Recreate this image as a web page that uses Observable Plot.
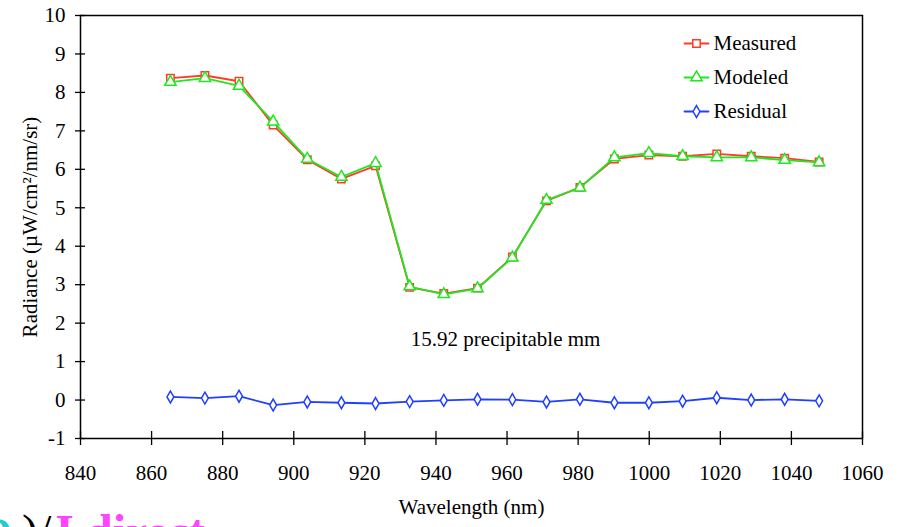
<!DOCTYPE html>
<html>
<head>
<meta charset="utf-8">
<script src="https://cdn.jsdelivr.net/npm/d3@7"></script>
<script src="https://cdn.jsdelivr.net/npm/@observablehq/plot@0.6"></script>
<style>
  html, body { margin: 0; padding: 0; background: #fff; overflow: hidden; width: 900px; height: 527px; }
  #chart { position: absolute; left: 0; top: 0; }
  #chart svg, #chart svg text { font-family: "Liberation Serif", "Times New Roman", Tinos, "DejaVu Serif", serif !important; }
  #frag { position: absolute; left: 22px; top: 508px; font-family: "Liberation Serif", "Times New Roman", Tinos, "DejaVu Serif", serif; font-size: 48px; line-height: 1; font-weight: bold; white-space: nowrap; }
  #rho { position: absolute; left: -36px; top: -6px; color: #22cccc; }
</style>
</head>
<body>
<div id="chart"></div>
<div id="frag"><span id="rho">ρ</span><span style="color:#000;font-weight:normal">)/</span><span style="color:#ff44ff;margin-left:4px">I direct</span></div>
<script>
const wavelength = [865.3, 875.0, 884.6, 894.2, 903.8, 913.4, 923.0, 932.6, 942.2, 951.7, 961.5, 971.1, 980.5, 990.2, 999.9, 1009.4, 1019.0, 1028.7, 1038.1, 1047.8];
const measured = [8.37, 8.44, 8.29, 7.15, 6.25, 5.75, 6.09, 2.93, 2.77, 2.91, 3.72, 5.18, 5.53, 6.27, 6.37, 6.34, 6.40, 6.34, 6.29, 6.19];
const modeled  = [8.27, 8.37, 8.17, 7.24, 6.27, 5.80, 6.16, 2.95, 2.75, 2.90, 3.70, 5.20, 5.52, 6.31, 6.42, 6.34, 6.31, 6.31, 6.24, 6.18];
const residual = [0.08, 0.05, 0.10, -0.13, -0.05, -0.07, -0.09, -0.04, -0.01, 0.02, 0.01, -0.05, 0.02, -0.07, -0.07, -0.03, 0.06, 0.00, 0.02, -0.02];

const seriesNames = ["Measured", "Modeled", "Residual"];
const seriesColors = ["#ff3c28", "#1ee81e", "#2040ff"];
const seriesSymbols = ["square", "triangle", "diamond"];
const seriesValues = [measured, modeled, residual];

const xTicks = [840, 860, 880, 900, 920, 940, 960, 980, 1000, 1020, 1040, 1060];
const yTicks = [-1, 0, 1, 2, 3, 4, 5, 6, 7, 8, 9, 10];
const annotation = [{x: 959.6, y: 1.58, text: "15.92 precipitable mm"}];

const lineShape = { draw(context, l) { context.moveTo(0, 0); context.lineTo(0, -l); } };
const serif = "'Liberation Serif', 'Times New Roman', Tinos, 'DejaVu Serif', serif";

const marks = [];
seriesNames.forEach((name, s) => {
  const data = wavelength.map((w, i) => ({w, v: seriesValues[s][i]}));
  marks.push(Plot.line(data, {x: "w", y: "v", stroke: seriesColors[s], strokeWidth: 1.8}));
  marks.push(Plot.dot(data, {x: "w", y: "v", symbol: seriesSymbols[s], r: s === 2 ? 3.6 : 4.2, stroke: seriesColors[s], strokeWidth: 1.5, fill: "white"}));
});
// legend
seriesNames.forEach((name, s) => {
  const dy = 28 + s * 34;
  marks.push(Plot.vector([name], {frameAnchor: "top-left", dx: 604, dy, length: 24, rotate: 90, anchor: "start", shape: lineShape, stroke: seriesColors[s], strokeWidth: 1.8}));
  marks.push(Plot.dot([name], {frameAnchor: "top-left", dx: 616, dy, symbol: seriesSymbols[s], r: s === 2 ? 3.6 : 4.2, stroke: seriesColors[s], strokeWidth: 1.5, fill: "white"}));
  marks.push(Plot.text([name], {frameAnchor: "top-left", dx: 633, dy, text: d => d, textAnchor: "start", lineAnchor: "middle", fontSize: 21, fontFamily: serif, fill: "black"}));
});

const chart = Plot.plot({
  width: 900,
  height: 527,
  marginLeft: 80,
  marginRight: 38,
  marginTop: 15,
  marginBottom: 89,
  style: {fontFamily: serif, fontSize: "21px", background: "white", color: "black"},
  x: {domain: [840, 1060]},
  y: {domain: [-1, 10]},
  marks: [
    Plot.frame({stroke: "black", strokeWidth: 1.5}),
    Plot.axisX({ticks: xTicks, tickSize: 14, dy: -7, tickFormat: () => "", label: null, strokeWidth: 1.3}),
    Plot.axisX({ticks: xTicks, tickSize: 0, tickPadding: 27, tickFormat: d => String(d), label: null, fontSize: 21, fontFamily: serif}),
    Plot.axisY({ticks: yTicks, tickSize: 10, dx: 5, tickFormat: () => "", label: null, strokeWidth: 1.3}),
    Plot.axisY({ticks: yTicks, tickSize: 0, tickPadding: 15, tickFormat: d => String(d), label: null, fontSize: 21, fontFamily: serif}),
    Plot.text(["Radiance (µW/cm²/nm/sr)"], {frameAnchor: "left", dx: -50, rotate: -90, text: d => d, fontSize: 21, fontFamily: serif, textAnchor: "middle"}),
    Plot.text(["Wavelength (nm)"], {frameAnchor: "bottom", dy: 75, text: d => d, fontSize: 21, fontFamily: serif, textAnchor: "middle"}),
    Plot.text(annotation, {x: "x", y: "y", text: "text", fontSize: 21, fontFamily: serif}),
    ...marks
  ]
});
document.getElementById("chart").appendChild(chart);
</script>
</body>
</html>
